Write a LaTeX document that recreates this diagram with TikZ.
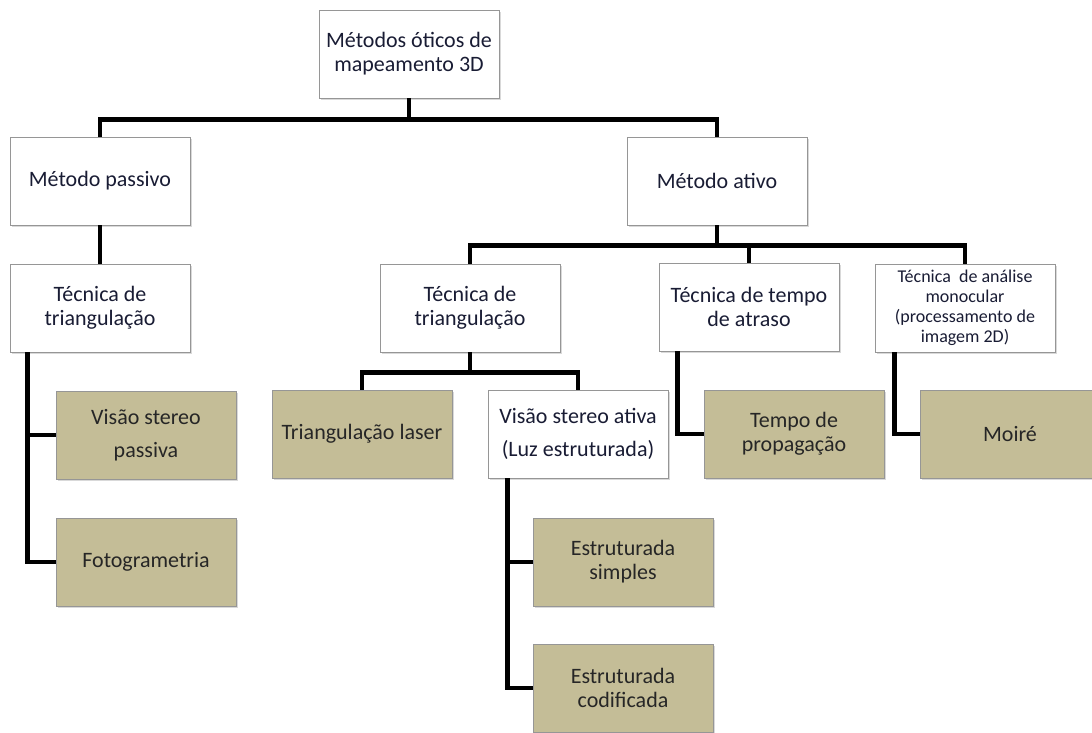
\documentclass[tikz,border=0pt]{standalone}
\usepackage{fontspec}
\setmainfont{Carlito}
\usepackage{tikz}
\usetikzlibrary{shadows}
\definecolor{mytan}{RGB}{196,189,151}
\definecolor{myborder}{RGB}{150,150,150}
\definecolor{mytext}{RGB}{25,28,52}
\tikzset{
    otnode/.style={rectangle, draw=myborder, fill=white, text=mytext, minimum width=90pt,
      minimum height=44pt, inner sep=2pt, align=center, font=\fontsize{11}{12}\selectfont,
      drop shadow={shadow xshift=1.2pt, shadow yshift=-1.2pt, opacity=0.3}},
    otleaf/.style={otnode, fill=mytan, text=black!85},
    otwide/.style={font=\fontsize{11}{16.5}\selectfont},
    otlink/.style={-, line width=2.2pt, black},
}

\begin{document}
\begin{tikzpicture}[x=0.5pt,y=-0.5pt]
  \useasboundingbox (0,0) rectangle (1092,733);
  % Level 1: root
  \node[otnode] (root) at (409,54) {Métodos óticos de\\mapeamento 3D};
  % Level 2: methods
  \node[otnode] (passivo) at (100,181) {Método passivo};
  \node[otnode] (ativo) at (717,181) {Método ativo};
  % Level 3: techniques
  \node[otnode] (triP) at (100,308) {Técnica de\\triangulação};
  \node[otnode] (triA) at (470,308) {Técnica de\\triangulação};
  \node[otnode] (tempo) at (749,307) {Técnica de tempo\\de atraso};
  \node[otnode, font=\fontsize{9}{10}\selectfont] (mono) at (965,308)
    {Técnica~~de análise\\monocular\\(processamento de\\imagem 2D)};
  % Level 4: leaves
  \node[otleaf, otwide] (stereoP) at (146,435) {Visão stereo\\passiva};
  \node[otleaf] (foto) at (146,562) {Fotogrametria};
  \node[otleaf] (laser) at (362,434) {Triangulação laser};
  \node[otnode, otwide] (stereoA) at (578,434) {Visão stereo ativa\\(Luz estruturada)};
  \node[otleaf] (propag) at (794,434) {Tempo de\\propagação};
  \node[otleaf] (moire) at (1010,434) {Moiré};
  \node[otleaf] (simples) at (623,562) {Estruturada\\simples};
  \node[otleaf] (codif) at (623,688) {Estruturada\\codificada};
  % CONNECTORS
  \draw[otlink] (root.south) -- ++(0,21) -| (passivo.north);
  \draw[otlink] (root.south) -- ++(0,21) -| (ativo.north);
  \draw[otlink] (passivo) -- (triP);
  \draw[otlink] (ativo.south) -- ++(0,20) -| (triA.north);
  \draw[otlink] (ativo.south) -- ++(0,20) -| (tempo.north);
  \draw[otlink] (ativo.south) -- ++(0,20) -| (mono.north);
  \draw[otlink] (triA.south) -- ++(0,20) -| (laser.north);
  \draw[otlink] (triA.south) -- ++(0,20) -| (stereoA.north);
  \draw[otlink] ([xshift=9pt]triP.south west) |- (stereoP.west);
  \draw[otlink] ([xshift=9pt]triP.south west) |- (foto.west);
  \draw[otlink] ([xshift=10pt]stereoA.south west) |- (simples.west);
  \draw[otlink] ([xshift=10pt]stereoA.south west) |- (codif.west);
  \draw[otlink] ([xshift=9.5pt]tempo.south west) |- (propag.west);
  \draw[otlink] ([xshift=10pt]mono.south west) |- (moire.west);
\end{tikzpicture}
\end{document}
